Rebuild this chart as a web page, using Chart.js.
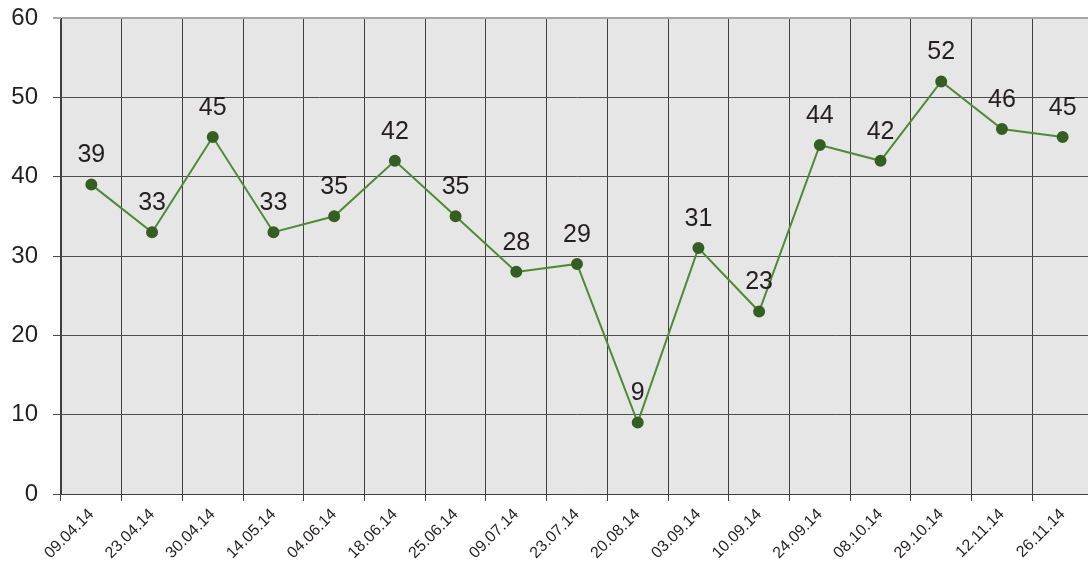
<!DOCTYPE html>
<html>
<head>
<meta charset="utf-8">
<script src="https://cdn.jsdelivr.net/npm/chart.js@4/dist/chart.umd.min.js"></script>
<style>
  html, body { margin: 0; padding: 0; background: #fff; overflow: hidden; }
  /* plot runs slightly past the right edge, as in the original */
  #wrap { width: 1093px; height: 567px; }
</style>
</head>
<body>
<div id="wrap"><canvas id="chart"></canvas></div>
<script>
const dates = ['09.04.14', '23.04.14', '30.04.14', '14.05.14', '04.06.14', '18.06.14', '25.06.14',
  '09.07.14', '23.07.14', '20.08.14', '03.09.14', '10.09.14', '24.09.14', '08.10.14',
  '29.10.14', '12.11.14', '26.11.14'];
const values = [39, 33, 45, 33, 35, 42, 35, 28, 29, 9, 31, 23, 44, 42, 52, 46, 45];
const yTicks = [0, 10, 20, 30, 40, 50, 60];

// grey plot background
const plotBg = {
  id: 'plotBg',
  beforeDraw(chart) {
    const a = chart.chartArea, ctx = chart.ctx;
    ctx.save();
    ctx.fillStyle = '#e6e6e6';
    ctx.fillRect(a.left, a.top, a.right - a.left, a.bottom - a.top);
    ctx.restore();
  }
};

// value labels above the points
const valueLabels = {
  id: 'valueLabels',
  afterDatasetsDraw(chart) {
    const ctx = chart.ctx;
    const meta = chart.getDatasetMeta(0);
    ctx.save();
    ctx.font = '25px "Liberation Sans", Arial, sans-serif';
    ctx.fillStyle = '#231f20';
    ctx.textAlign = 'center';
    ctx.textBaseline = 'middle';
    meta.data.forEach((pt, i) => {
      ctx.fillText(String(values[i]), pt.x, pt.y - 29);
    });
    ctx.restore();
  }
};

new Chart(document.getElementById('chart'), {
  type: 'line',
  data: {
    labels: dates,
    datasets: [{
      data: values,
      borderColor: '#4f8a35',
      borderWidth: 2,
      pointBackgroundColor: '#355e22',
      pointBorderColor: '#355e22',
      pointRadius: 5,
      pointHoverRadius: 5,
      tension: 0
    }]
  },
  options: {
    responsive: true,
    maintainAspectRatio: false,
    animation: false,
    layout: { autoPadding: false, padding: { left: 0, top: 18, right: 0, bottom: 0 } },
    plugins: {
      legend: { display: false },
      tooltip: { enabled: false }
    },
    scales: {
      x: {
        offset: true,
        afterFit(scale) {
          scale.paddingLeft = 0;
          scale.paddingRight = 0;
          scale.height = 73;
        },
        grid: {
          offset: true,
          color: '#3f3f3f',
          lineWidth: 1,
          tickLength: 7,
          drawOnChartArea: true
        },
        border: { color: '#3f3f3f', width: 1 },
        ticks: {
          maxRotation: 45,
          minRotation: 45,
          autoSkip: false,
          padding: 4,
          color: '#231f20',
          font: { family: '"Liberation Sans", Arial, sans-serif', size: 16 }
        }
      },
      y: {
        min: 0,
        max: 60,
        afterBuildTicks(axis) {
          axis.ticks = yTicks.map(v => ({ value: v }));
        },
        afterFit(scale) {
          scale.paddingTop = 0;
          scale.paddingBottom = 0;
          scale.width = 61;
        },
        grid: {
          color: ctx => ctx.tick && ctx.tick.value === 60 ? '#a6a6a6' : '#4d4d4d',
          lineWidth: ctx => ctx.tick && ctx.tick.value === 60 ? 2 : 1,
          tickLength: 8
        },
        border: { color: '#3f3f3f', width: 1 },
        ticks: {
          padding: 15,
          color: '#231f20',
          font: { family: '"Liberation Sans", Arial, sans-serif', size: 24 }
        }
      }
    }
  },
  plugins: [plotBg, valueLabels]
});
</script>
</body>
</html>
